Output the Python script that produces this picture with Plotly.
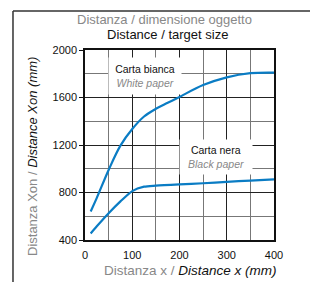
import plotly.graph_objects as go

x_white = [12, 25, 50, 75, 100, 125, 150, 175, 200, 250, 300, 350, 400]
y_white = [640, 755, 990, 1195, 1335, 1440, 1505, 1555, 1605, 1705, 1770, 1805, 1810]

x_black = [12, 25, 50, 75, 100, 125, 150, 200, 250, 300, 350, 400]
y_black = [455, 515, 625, 725, 812, 849, 858, 869, 878, 890, 900, 911]

x_ticks = [0, 100, 200, 300, 400]
y_ticks = [400, 800, 1200, 1600, 2000]

FONT = "Liberation Sans Narrow, Liberation Sans, Arial, sans-serif"
BLUE = "#0a7cc4"

fig = go.Figure()
fig.add_trace(go.Scatter(x=x_white, y=y_white, mode="lines",
                         line=dict(color=BLUE, width=2.2, shape="spline"),
                         showlegend=False, hoverinfo="skip"))
fig.add_trace(go.Scatter(x=x_black, y=y_black, mode="lines",
                         line=dict(color=BLUE, width=2.2, shape="spline", smoothing=0.7),
                         showlegend=False, hoverinfo="skip"))

fig.update_layout(
    width=310, height=274,
    margin=dict(l=77, r=44, t=42, b=42),
    paper_bgcolor="white", plot_bgcolor="white",
    font=dict(family=FONT, size=11, color="#111"),
    xaxis=dict(range=[0, 400], tickvals=x_ticks, showgrid=True, gridcolor="#222", gridwidth=1.3,
               minor=dict(dtick=50, showgrid=True, gridcolor="#777", gridwidth=1.3),
               showline=True, linecolor="#111", linewidth=1.5, mirror=True,
               ticks="", zeroline=False, ticklabelstandoff=4,
               tickfont=dict(size=11, family=FONT)),
    yaxis=dict(range=[400, 2000], tickvals=y_ticks, showgrid=True, gridcolor="#222", gridwidth=1.3,
               minor=dict(dtick=200, showgrid=True, gridcolor="#777", gridwidth=1.3),
               showline=True, linecolor="#111", linewidth=1.5, mirror=True,
               ticks="outside", ticklen=4, tickcolor="#111", zeroline=False,
               tickfont=dict(size=11, family=FONT)),
)

ann = [
    dict(xref="paper", yref="paper", x=0.423, y=1.163, text="Distanza / dimensione oggetto",
         font=dict(size=13, color="#888", family=FONT)),
    dict(xref="paper", yref="paper", x=0.439, y=1.079, text="Distance / target size",
         font=dict(size=13, color="#111", family=FONT)),
    dict(xref="paper", yref="paper", x=0.56, y=-0.158,
         text="<span style='color:#888'>Distanza x / </span><i>Distance x (mm)</i>",
         font=dict(size=13.5, color="#111", family=FONT)),
    dict(xref="paper", yref="paper", x=-0.275, y=0.437, textangle=-90,
         text="<span style='color:#888'>Distanza Xon / </span><i>Distance Xon (mm)</i>",
         font=dict(size=13, color="#111", family=FONT)),
    dict(xref="x", yref="y", x=126, y=1785,
         text="Carta bianca<br><i><span style='color:#888'>White paper</span></i>",
         font=dict(size=10.5, color="#111", family=FONT), bgcolor="white", width=70, height=34),
    dict(xref="x", yref="y", x=277, y=1103,
         text="Carta nera<br><i><span style='color:#888'>Black paper</span></i>",
         font=dict(size=10.5, color="#111", family=FONT), bgcolor="white", width=70, height=32),
]
for a in ann:
    a["showarrow"] = False
    a["xanchor"] = "center"
    a["yanchor"] = "middle"
    fig.add_annotation(**a)

fig.add_shape(type="line", xref="paper", yref="paper", x0=-0.381, x1=-0.381, y0=-0.23, y1=1.205,
              line=dict(color="#333", width=1.5))
fig.add_shape(type="line", xref="paper", yref="paper", x0=-0.381, x1=1.25, y0=1.205, y1=1.205,
              line=dict(color="#333", width=1.5))

fig.write_html("out.html")
